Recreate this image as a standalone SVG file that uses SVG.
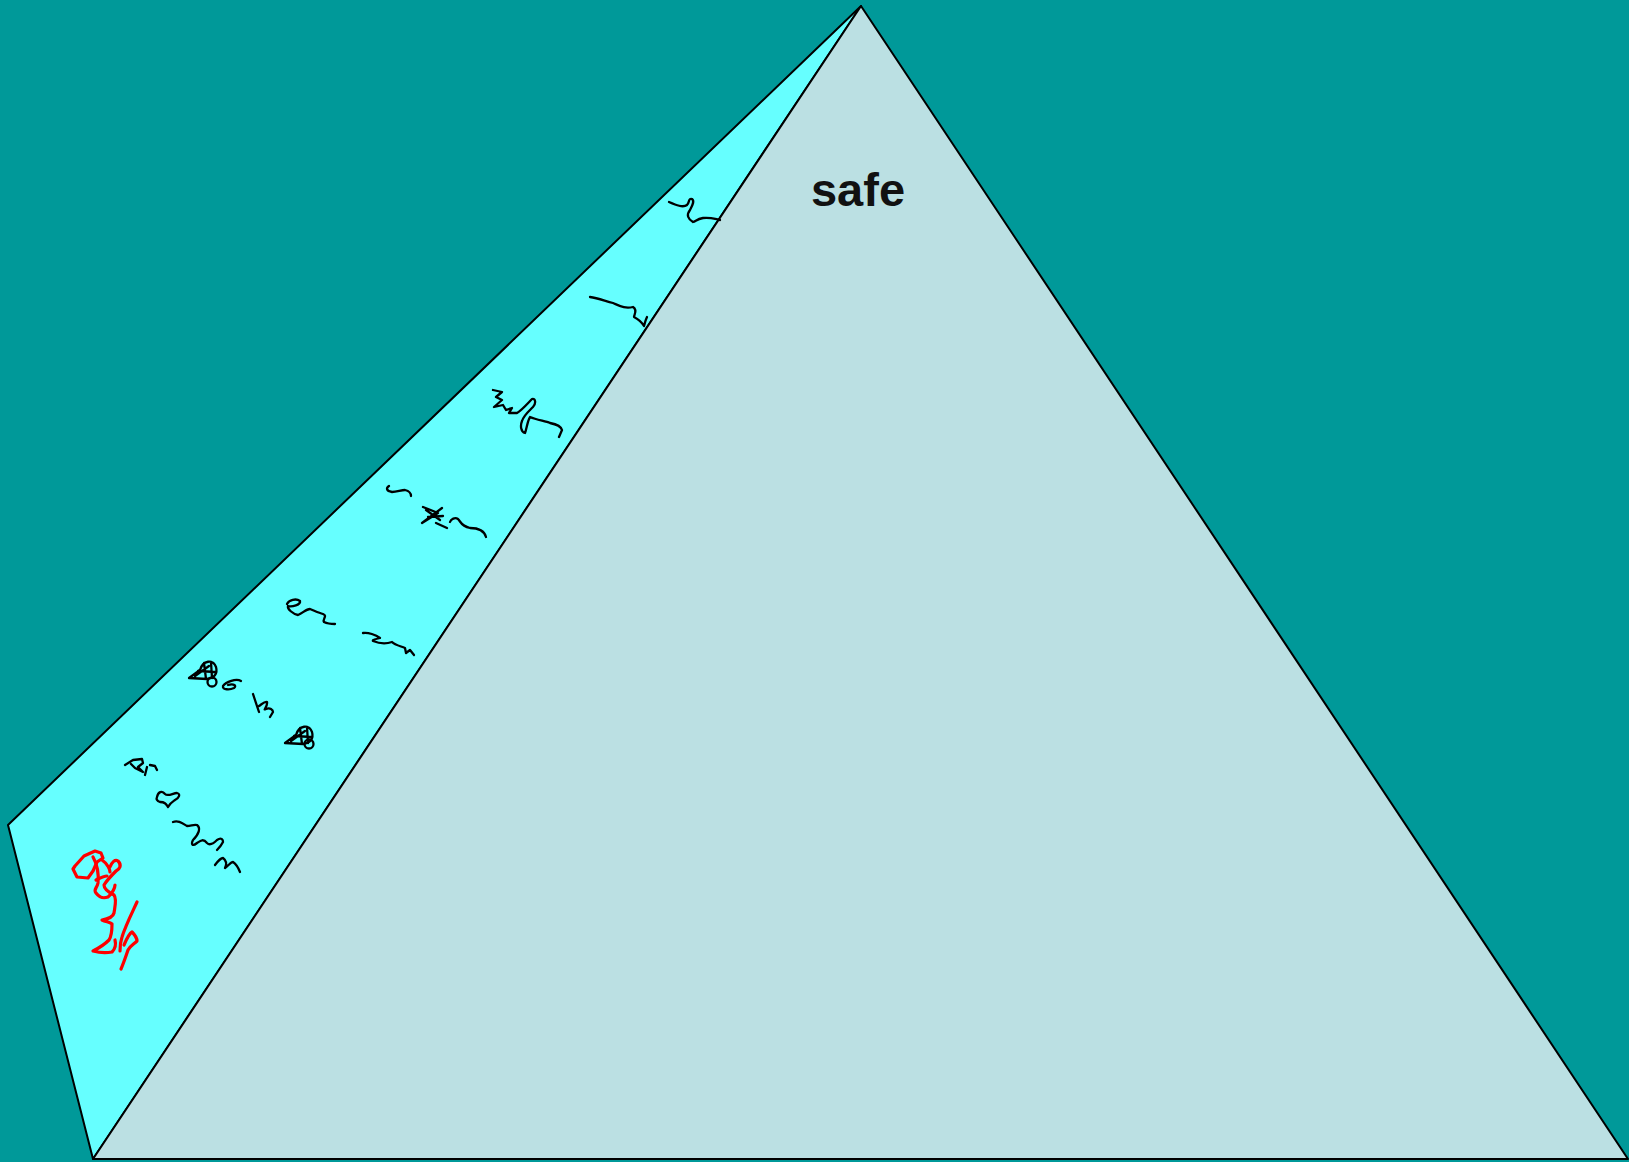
<svg xmlns="http://www.w3.org/2000/svg" width="1629" height="1162" viewBox="0 0 1629 1162">
<style>
.edge{stroke:#000;stroke-width:2;stroke-linejoin:round}
.ink{fill:none;stroke:#000;stroke-width:2.3;stroke-linecap:round;stroke-linejoin:round}
.red{fill:none;stroke:#ff0000;stroke-width:3.2;stroke-linecap:round;stroke-linejoin:round}
.label{font-family:"Liberation Sans",Arial,sans-serif;font-weight:bold;font-size:47px;fill:#111}
</style>
<rect x="0" y="0" width="1629" height="1162" fill="#009999"/>
<g id="left-face">
<polygon class="edge" fill="#66FFFF" points="8,825 861,6 93,1159"/>
</g>
<g id="front-face">
<polygon class="edge" fill="#BBE0E3" points="861,6 1628,1159 93,1159"/>
<text class="label" x="858" y="206" text-anchor="middle">safe</text>
</g>
<g id="scribbles">
<path class="ink" d="M669,202 C676,205 683,208 687,205 C690,202 688,198 692,199 C695,201 692,206 690,210 C686,215 688,219 693,222 C696,221 697,219 703,218 C710,217 715,219 720,220"/>
<path class="ink" d="M590,297 C598,298 605,301 613,303 C620,306 625,309 633,307 C638,310 634,315 634,317 C638,319 641,321 644,326 C645,322 646,319 647,317"/>
<path class="ink" d="M493,390 L502,392 L496,397 L502,400 L494,407 L503,405 L506,410 L512,408 L509,413 L517,413 C522,410 528,403 532,399 C536,398 536,404 533,407 C529,411 524,415 522,421 C520,426 521,432 525,433 C527,428 527,422 530,417 C537,420 545,421 550,423 C555,424 561,426 562,430 L559,437"/>
<path class="ink" d="M389,486 C386,488 386,491 392,492 C397,492 401,490 405,490 C409,491 411,493 411,496"/>
<path class="ink" d="M423,507 L438,513 L422,523 L442,508 M428,517 L443,516 M436,523 L447,528 M426,510 L440,520"/>
<path class="ink" d="M450,522 C451,519 455,517 458,519 C461,522 461,526 470,528 C478,528 484,530 486,537"/>
<path class="ink" d="M287,604 C289,600 296,598 300,601 C301,605 292,607 288,606 C287,609 293,614 298,615 C303,613 306,609 310,609 C315,611 319,613 323,614 C328,616 322,619 324,622 C328,624 332,624 335,624"/>
<path class="ink" d="M363,633 C368,632 376,635 380,638 C376,639 372,640 373,641 C378,643 386,644 392,642 C395,645 400,646 405,648 L406,653 L410,650 L414,655"/>
<path class="ink" d="M189,678 L200,670 C203,660 213,659 216,667 C218,674 214,678 207,679 Z M198,671 L216,672 M204,663 L206,679 M211,662 L212,678 M195,676 L209,666"/>
<circle class="ink" cx="212" cy="682" r="4.5"/>
<path class="ink" d="M241,681 C236,678 226,682 223,686 C222,690 230,690 234,688 C237,686 234,683 228,685"/>
<path class="ink" d="M253,694 L259,712 M259,706 C262,704 265,701 267,702 C268,707 262,711 266,709 C270,707 273,710 273,712 L270,717"/>
<path class="ink" d="M285,743 L296,735 C299,725 309,724 312,732 C314,739 310,743 303,744 Z M294,736 L312,737 M300,728 L302,744 M307,727 L308,743 M291,741 L305,731"/>
<circle class="ink" cx="309" cy="744" r="4.5"/>
<path class="ink" d="M125,765 L133,760 L142,759 L143,763 L138,767 L143,772 L135,768 L131,764 M147,767 L145,775 M150,765 L155,766 L157,770"/>
<path class="ink" d="M157,797 C158,792 162,790 165,794 C168,797 173,793 177,793 C181,794 179,798 175,800 C172,802 170,803 168,807 M168,807 C166,804 165,802 160,802 C157,801 156,799 157,797"/>
<path class="ink" d="M173,822 C178,820 182,823 187,826 C191,826 194,824 197,825 C201,828 199,834 193,840 C191,844 192,847 197,843 C200,841 203,838 207,843 C210,846 214,843 217,840 C220,838 223,838 223,842 C221,846 219,848 217,850"/>
<path class="ink" d="M215,865 C218,861 221,858 223,858 C227,861 227,864 225,868 C229,865 231,862 233,862 C236,864 238,867 240,872"/>
<path class="red" d="M75,866 L84,856 L95,851 L101,853 L103,858 L97,862 L93,871 L88,878 L77,877 L73,869 Z"/>
<path class="red" d="M93,857 C97,864 99,872 98,883 C97,888 93,890 96,893 C99,897 102,899 108,897 C113,893 115,887 115,885"/>
<path class="red" d="M110,867 C112,862 115,859 118,861 C122,865 120,869 116,871 C111,876 107,880 104,885 C104,890 110,893 114,895 C117,899 115,906 114,913 C113,917 108,919 102,920 C106,922 110,922 112,924 C112,931 111,937 109,940 C104,945 97,949 93,951 C100,953 107,953 112,952 C116,948 116,944 115,940"/>
<path class="red" d="M137,902 C131,915 125,927 122,937 C120,943 120,947 120,951 M124,945 C127,938 130,933 132,932 C135,935 137,938 137,941 C134,944 130,946 128,950 C126,956 124,962 121,969"/>
<path class="red" d="M102,860 C108,864 110,870 110,872 M96,880 C100,878 104,876 107,876"/>
</g>
</svg>
